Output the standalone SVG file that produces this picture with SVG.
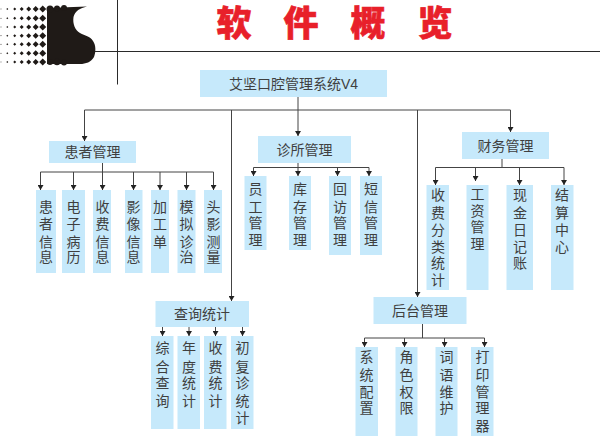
<svg xmlns="http://www.w3.org/2000/svg" width="600" height="437" viewBox="0 0 600 437">
<style>
text{font-family:"Liberation Sans","Noto Sans CJK SC",sans-serif;font-size:14px;fill:#3f3f3f;text-anchor:middle}
.b{fill:#c6e9fb}
.c{fill:none;stroke:#444;stroke-width:1}
.r{fill:none;stroke:#2a2a2a;stroke-width:1}
.t{font-size:35px;font-weight:900;fill:#e8202a;stroke:#e8202a;stroke-width:.6}
.d{fill:#1f1a17}
</style>
<defs>
<marker id="a" markerUnits="userSpaceOnUse" markerWidth="6" markerHeight="6" refX="5" refY="3" orient="auto"><path d="M0 0L5 3L0 6Z" fill="#222"/></marker>
</defs>
<rect width="600" height="437" fill="#fff"/>
<g id="logo">
<path class="d" d="M47 8L87 6.500C80 8 75 11 73.500 17C72.500 24 75 30 80 33C85 36 90 36 93 41C96 45 96 52 94 57C91 62 86 64 80 64L47 64Z"/>
<g class="d">
<circle cx="50" cy="9" r="3.500"/><circle cx="57" cy="8.500" r="3"/><circle cx="64" cy="8" r="3"/><circle cx="50" cy="62" r="3"/><circle cx="57" cy="62" r="3.300"/><circle cx="64" cy="62.500" r="3"/>
<path d="M42.700 5.500l3.500 3.500-3.500 3.500-3.500-3.500zM42.700 14.800l3.500 3.500-3.500 3.500-3.500-3.500zM42.700 23.500l3.500 3.500-3.500 3.500-3.500-3.500zM42.700 32.200l3.500 3.500-3.500 3.500-3.500-3.500zM42.700 40.800l3.500 3.500-3.500 3.500-3.500-3.500zM42.700 49.800l3.500 3.500-3.500 3.500-3.500-3.500zM42.700 58.500l3.500 3.500-3.500 3.500-3.500-3.500z"/>
<path d="M35.700 6l3 3-3 3-3-3zM35.700 15.300l3 3-3 3-3-3zM35.700 24l3 3-3 3-3-3zM35.700 32.700l3 3-3 3-3-3zM35.700 41.300l3 3-3 3-3-3zM35.700 50.300l3 3-3 3-3-3zM35.700 59l3 3-3 3-3-3z"/>
<path d="M28.700 6.500l2.500 2.500-2.500 2.500-2.500-2.500zM28.700 15.800l2.500 2.500-2.500 2.500-2.500-2.500zM28.700 24.500l2.500 2.500-2.500 2.500-2.500-2.500zM28.700 33.200l2.500 2.500-2.500 2.500-2.500-2.500zM28.700 41.800l2.500 2.500-2.500 2.500-2.500-2.500zM28.700 50.800l2.500 2.500-2.500 2.500-2.500-2.500zM28.700 59.500l2.500 2.500-2.500 2.500-2.500-2.500z"/>
<path d="M21.700 7l2 2-2 2-2-2zM21.700 16.300l2 2-2 2-2-2zM21.700 25l2 2-2 2-2-2zM21.700 33.700l2 2-2 2-2-2zM21.700 42.300l2 2-2 2-2-2zM21.700 51.300l2 2-2 2-2-2zM21.700 60l2 2-2 2-2-2z"/>
<path d="M14.700 7.500l1.500 1.500-1.500 1.500-1.500-1.500zM14.700 16.800l1.500 1.500-1.500 1.500-1.500-1.500zM14.700 25.500l1.500 1.500-1.500 1.500-1.500-1.500zM14.700 34.200l1.500 1.500-1.500 1.500-1.500-1.500zM14.700 42.800l1.500 1.500-1.500 1.500-1.500-1.500zM14.700 51.800l1.500 1.500-1.500 1.500-1.500-1.500zM14.700 60.500l1.500 1.500-1.500 1.500-1.500-1.500z"/>
<path d="M7.300 8l1 1-1 1-1-1zM7.300 17.300l1 1-1 1-1-1zM7.300 26l1 1-1 1-1-1zM7.300 34.700l1 1-1 1-1-1zM7.300 43.300l1 1-1 1-1-1zM7.300 52.300l1 1-1 1-1-1zM7.300 61l1 1-1 1-1-1z"/>
<path d="M1 8.400l.6.600-.6.600-.6-.600zM1 17.700l.6.600-.6.600-.6-.600zM1 26.400l.6.600-.6.600-.6-.600zM1 35.100l.6.600-.6.600-.6-.600zM1 43.700l.6.600-.6.600-.6-.600zM1 52.700l.6.600-.6.600-.6-.600zM1 61.400l.6.600-.6.600-.6-.600z"/>
</g>
</g>
<g id="header-rules">
<path class="r" d="M95 51.500H600M117.500 0V84.500"/>
</g>
<g id="title">
<text class="t" x="234" y="36">软</text>
<text class="t" x="301" y="36">件</text>
<text class="t" x="368" y="36">概</text>
<text class="t" x="435" y="36">览</text>
</g>
<g id="connectors" class="c">
<path d="M298 97V136" marker-end="url(#a)"/>
<path d="M84.500 110H510.500"/>
<path d="M84.500 110V141" marker-end="url(#a)"/>
<path d="M510.500 110V132" marker-end="url(#a)"/>
<path d="M231.500 110V301" marker-end="url(#a)"/>
<path d="M417.500 110V297" marker-end="url(#a)"/>
<path d="M102.500 163V190" marker-end="url(#a)"/>
<path d="M40.500 172H213.500"/>
<path d="M40.500 172V190" marker-end="url(#a)"/>
<path d="M73.500 172V190" marker-end="url(#a)"/>
<path d="M133.500 172V190" marker-end="url(#a)"/>
<path d="M160 172V190" marker-end="url(#a)"/>
<path d="M186.500 172V190" marker-end="url(#a)"/>
<path d="M213.500 172V190" marker-end="url(#a)"/>
<path d="M298 163V176" marker-end="url(#a)"/>
<path d="M253.500 167.500H369"/>
<path d="M253.500 167.500V176" marker-end="url(#a)"/>
<path d="M337.500 167.500V176" marker-end="url(#a)"/>
<path d="M369 167.500V176" marker-end="url(#a)"/>
<path d="M502 159V167.500"/>
<path d="M435.500 167.500H564"/>
<path d="M435.500 167.500V185" marker-end="url(#a)"/>
<path d="M475.500 167.500V181" marker-end="url(#a)"/>
<path d="M519.500 167.500V185" marker-end="url(#a)"/>
<path d="M564 167.500V185" marker-end="url(#a)"/>
<path d="M162.500 327V336" marker-end="url(#a)"/>
<path d="M189 327V336" marker-end="url(#a)"/>
<path d="M215.500 327V336" marker-end="url(#a)"/>
<path d="M242.500 327V336" marker-end="url(#a)"/>
<path d="M422.500 324V338"/>
<path d="M364.500 338H484.500"/>
<path d="M364.500 338V347" marker-end="url(#a)"/>
<path d="M404.500 338V347" marker-end="url(#a)"/>
<path d="M444.500 338V347" marker-end="url(#a)"/>
<path d="M484.500 338V347" marker-end="url(#a)"/>
</g>
<g id="root"><rect class="b" x="200" y="70" width="187" height="27"/><text x="293.500" y="88.500">艾坚口腔管理系统V4</text></g>
<g id="patient"><rect class="b" x="49" y="141" width="87" height="22"/><text x="92.500" y="157">患者管理</text></g>
<g id="clinic"><rect class="b" x="258" y="136" width="93" height="27"/><text x="304.500" y="155">诊所管理</text></g>
<g id="finance"><rect class="b" x="462" y="132" width="87" height="27"/><text x="505.500" y="151">财务管理</text></g>
<g id="query"><rect class="b" x="155.500" y="301" width="93.500" height="26"/><text x="202" y="319">查询统计</text></g>
<g id="admin"><rect class="b" x="373.500" y="297" width="93" height="27"/><text x="420" y="315.500">后台管理</text></g>
<g id="p1"><rect class="b" x="36" y="190" width="20" height="83"/><text x="46 46 46 46" y="211.500 229 246.500 262">患者信息</text></g>
<g id="p2"><rect class="b" x="62" y="190" width="23" height="83"/><text x="73.500 73.500 73.500 73.500" y="211.500 229 246.500 262">电子病历</text></g>
<g id="p3"><rect class="b" x="93" y="190" width="18" height="83"/><text x="102.500 102.500 102.500 102.500" y="211.500 229 246.500 262">收费信息</text></g>
<g id="p4"><rect class="b" x="125" y="190" width="17.500" height="83"/><text x="133.500 133.500 133.500 133.500" y="211.500 229 246.500 262">影像信息</text></g>
<g id="p5"><rect class="b" x="151" y="190" width="18" height="83"/><text x="160 160 160" y="211.500 229 246.500">加工单</text></g>
<g id="p6"><rect class="b" x="177.500" y="190" width="18" height="83"/><text x="186.500 186.500 186.500 186.500" y="211.500 229 246.500 262">模拟诊治</text></g>
<g id="p7"><rect class="b" x="204" y="190" width="18" height="83"/><text x="213.500 213.500 213.500 213.500" y="211.500 229 246.500 262">头影测量</text></g>
<g id="c1"><rect class="b" x="244.500" y="176" width="22" height="74"/><text x="255.500 255.500 255.500 255.500" y="194 211.500 228 245">员工管理</text></g>
<g id="c2"><rect class="b" x="289" y="176" width="22" height="74"/><text x="300 300 300 300" y="194 211.500 228 245">库存管理</text></g>
<g id="c3"><rect class="b" x="329" y="176" width="22" height="79"/><text x="340 340 340 340" y="194 211.500 228 245">回访管理</text></g>
<g id="c4"><rect class="b" x="360" y="176" width="22" height="79"/><text x="371 371 371 371" y="194 211.500 228 245">短信管理</text></g>
<g id="f1"><rect class="b" x="426.500" y="185" width="22.500" height="105"/><text x="438 438 438 438 438 438" y="200 217.500 235 252 268 285">收费分类统计</text></g>
<g id="f2"><rect class="b" x="466.500" y="185" width="22" height="105"/><text x="477.500 477.500 477.500 477.500" y="199 215.500 231.500 249">工资管理</text></g>
<g id="f3"><rect class="b" x="506.500" y="185" width="26.500" height="105"/><text x="520 520 520 520 520" y="200 217.500 235 252 268">现金日记账</text></g>
<g id="f4"><rect class="b" x="551" y="185" width="22.500" height="105"/><text x="562 562 562 562" y="200 217.500 235 252">结算中心</text></g>
<g id="q1"><rect class="b" x="151" y="336" width="22.500" height="93"/><text x="162.500 162.500 162.500 162.500" y="353 371.500 388 405.500">综合查询</text></g>
<g id="q2"><rect class="b" x="177.500" y="336" width="22.500" height="93"/><text x="189 189 189 189" y="353 371.500 388 405.500">年度统计</text></g>
<g id="q3"><rect class="b" x="204" y="336" width="22.500" height="93"/><text x="215.500 215.500 215.500 215.500" y="353 371.500 388 405.500">收费统计</text></g>
<g id="q4"><rect class="b" x="231" y="336" width="22.500" height="93"/><text x="242.500 242.500 242.500 242.500 242.500" y="353 371.500 388 405.500 423">初复诊统计</text></g>
<g id="a1"><rect class="b" x="355.500" y="347" width="22.500" height="89"/><text x="366.500 366.500 366.500 366.500" y="362 380 396.500 413">系统配置</text></g>
<g id="a2"><rect class="b" x="395.500" y="347" width="22" height="89"/><text x="406.500 406.500 406.500 406.500" y="362 380 396.500 413">角色权限</text></g>
<g id="a3"><rect class="b" x="435.500" y="347" width="22" height="89"/><text x="446.500 446.500 446.500 446.500" y="362 380 396.500 413">词语维护</text></g>
<g id="a4"><rect class="b" x="471" y="347" width="22.500" height="89"/><text x="482.500 482.500 482.500 482.500 482.500" y="362 380 396.500 413 430.500">打印管理器</text></g>
</svg>
